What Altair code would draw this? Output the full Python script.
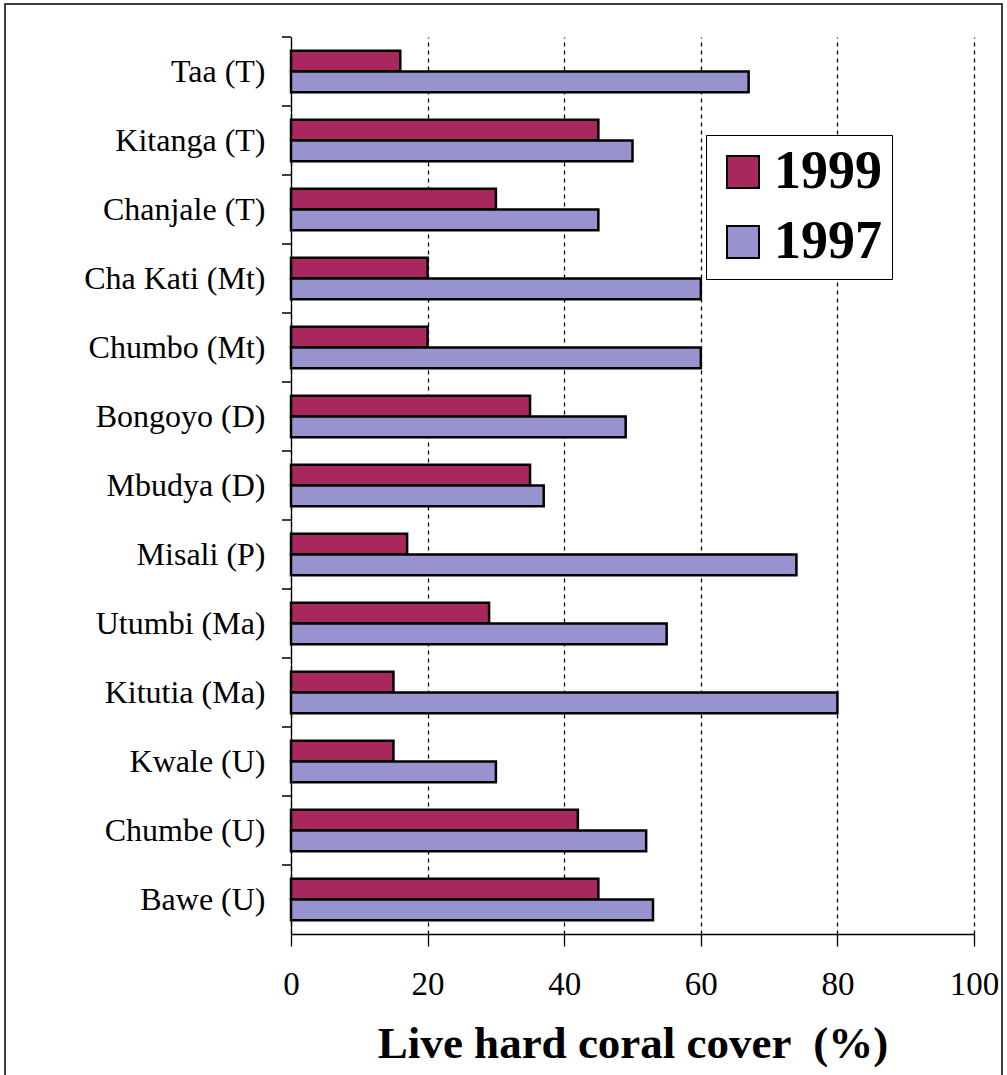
import altair as alt
import pandas as pd

# Live hard coral cover (%) at Tanzanian reef sites, 1999 vs 1997
sites = [
    "Taa (T)", "Kitanga (T)", "Chanjale (T)", "Cha Kati (Mt)", "Chumbo (Mt)",
    "Bongoyo (D)", "Mbudya (D)", "Misali (P)", "Utumbi (Ma)", "Kitutia (Ma)",
    "Kwale (U)", "Chumbe (U)", "Bawe (U)",
]
cover_1999 = [16, 45, 30, 20, 20, 35, 35, 17, 29, 15, 15, 42, 45]
cover_1997 = [67, 50, 45, 60, 60, 49, 37, 74, 55, 80, 30, 52, 53]
years = ["1999", "1997"]
year_colors = ["#A8285E", "#9793CE"]
x_ticks = [0, 20, 40, 60, 80, 100]

rows = []
for site, v99, v97 in zip(sites, cover_1999, cover_1997):
    rows.append({"site": site, "year": "1999", "cover": v99})
    rows.append({"site": site, "year": "1997", "cover": v97})
df = pd.DataFrame(rows)
site_df = pd.DataFrame({"site": sites})

SERIF = "Liberation Serif"
W, H = 683, 897
STEP = H / len(sites)
PAD_OUTER = 0.2

y_scale = alt.Scale(paddingInner=0.4, paddingOuter=PAD_OUTER)
y_axis = alt.Axis(
    title=None,
    grid=False,
    ticks=False,
    domainColor="black",
    domainWidth=1.3,
    labelFont=SERIF,
    labelFontSize=32,
    labelColor="black",
    labelPadding=26,
    labelLimit=300,
)

bars = alt.Chart(df).mark_bar(stroke="black", strokeWidth=2.5).encode(
    x=alt.X(
        "cover:Q",
        scale=alt.Scale(domain=[0, 100], nice=False),
        axis=alt.Axis(
            values=x_ticks,
            title="Live hard coral cover \u00a0(%)",
            grid=True,
            gridDash=[4, 4],
            gridColor="black",
            gridWidth=1.3,
            gridOpacity=1,
            domainColor="black",
            domainWidth=1.3,
            tickColor="black",
            tickSize=12,
            tickWidth=1.3,
            labelFont=SERIF,
            labelFontSize=33,
            labelColor="black",
            labelPadding=22,
            labelFlush=False,
            titleFont=SERIF,
            titleFontSize=45,
            titleFontWeight="bold",
            titleColor="black",
            titlePadding=20,
        ),
    ),
    y=alt.Y("site:N", sort=sites, scale=y_scale, axis=y_axis),
    yOffset=alt.YOffset("year:N", sort=years),
    color=alt.Color(
        "year:N",
        sort=years,
        scale=alt.Scale(domain=years, range=year_colors),
        legend=alt.Legend(
            title=None,
            orient="none",
            legendX=415,
            legendY=98,
            fillColor="white",
            strokeColor="black",
            padding=10,
            symbolType="square",
            symbolSize=1024,
            symbolStrokeColor="black",
            symbolStrokeWidth=2,
            symbolOpacity=1,
            labelFont=SERIF,
            labelFontSize=54,
            labelFontWeight="bold",
            labelColor="black",
            labelOffset=4,
            rowPadding=16,
            labelLimit=300,
        ),
    ),
)

# category separators on the y axis, at the top edge of each step
sep_ticks = alt.Chart(site_df).mark_rule(
    color="black", strokeWidth=1.5, yOffset=-PAD_OUTER * STEP
).encode(
    y=alt.Y("site:N", sort=sites, scale=y_scale, bandPosition=0, axis=y_axis),
    x=alt.value(-9),
    x2=alt.value(0),
)

# page frame around the whole figure
frame = alt.Chart(pd.DataFrame({"k": [0]})).mark_rect(
    fill=None, stroke="black", strokeWidth=1.5
).encode(
    x=alt.value(-286), x2=alt.value(711), y=alt.value(-33), y2=alt.value(1060)
)

chart = alt.layer(frame, bars, sep_ticks).properties(
    width=W,
    height=H,
    autosize=alt.AutoSizeParams(type="none"),
    padding={"left": 291, "top": 37, "right": 33, "bottom": 141},
    background="white",
).configure_view(stroke=None)

chart.save("out.html", embed_options={"renderer": "svg", "actions": False})
